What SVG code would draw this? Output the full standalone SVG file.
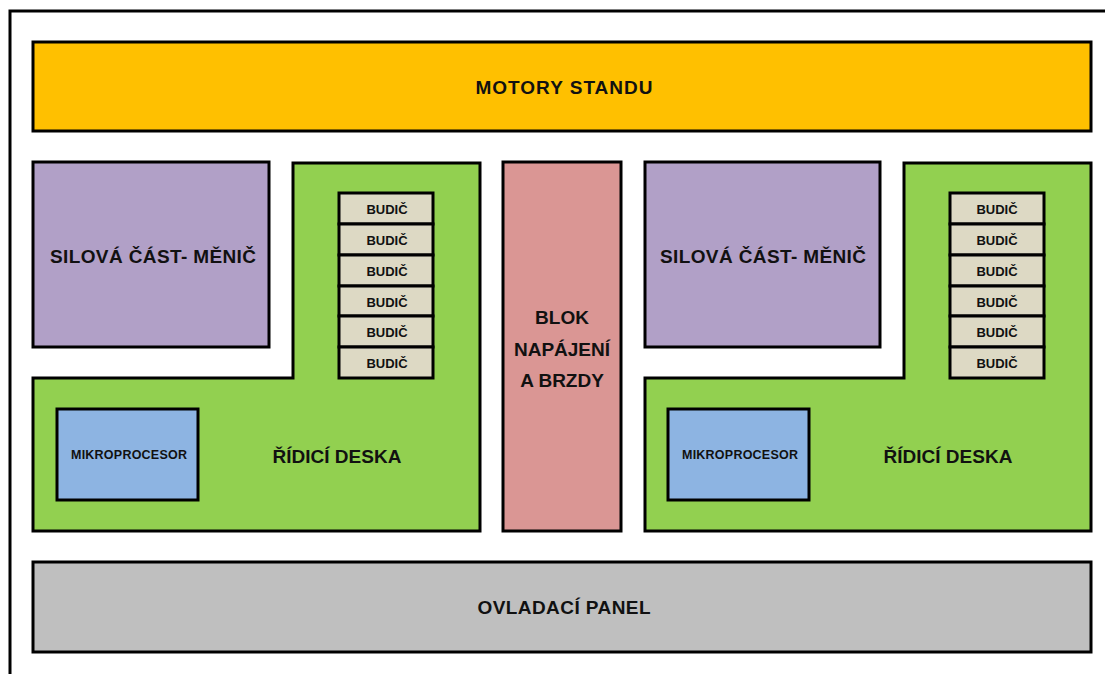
<svg xmlns="http://www.w3.org/2000/svg" width="1105" height="674" viewBox="0 0 1105 674">
<style>
.b{stroke:#000;stroke-width:3}
.t{font-family:"Liberation Sans",Arial,sans-serif;font-weight:bold;fill:#111;text-anchor:middle;dominant-baseline:central}
.big{font-size:19px}
.sm{font-size:13px}
.mp{font-size:12.5px}
</style>
<rect x="0" y="0" width="1105" height="674" fill="#fff"/>
<path d="M10,674 V11 H1105" fill="none" stroke="#000" stroke-width="3"/>
<g id="motory"><rect class="b" x="33" y="42" width="1058" height="89" fill="#FFC000"/><text class="t big" x="564" y="87" textLength="177" lengthAdjust="spacing">MOTORY STANDU</text></g>
<g id="silova-l"><rect class="b" x="33" y="162" width="236" height="185" fill="#B1A0C7"/><text class="t big" x="153" y="256" textLength="206" lengthAdjust="spacing">SILOVÁ ČÁST- MĚNIČ</text></g>
<g id="deska-l"><path class="b" d="M293,163 H480 V531 H33 V378 H293 Z" fill="#92D050"/><text class="t big" x="337" y="456">ŘÍDICÍ DESKA</text></g>
<g id="budice-l" fill="#DDD9C4">
<rect class="b" x="339" y="193" width="94" height="31"/><text class="t sm" x="387" y="209">BUDIČ</text>
<rect class="b" x="339" y="224" width="94" height="31"/><text class="t sm" x="387" y="240">BUDIČ</text>
<rect class="b" x="339" y="255" width="94" height="31"/><text class="t sm" x="387" y="271">BUDIČ</text>
<rect class="b" x="339" y="286" width="94" height="30"/><text class="t sm" x="387" y="302">BUDIČ</text>
<rect class="b" x="339" y="316" width="94" height="31"/><text class="t sm" x="387" y="332">BUDIČ</text>
<rect class="b" x="339" y="347" width="94" height="31"/><text class="t sm" x="387" y="363">BUDIČ</text>
</g>
<g id="mikro-l"><rect class="b" x="57" y="409" width="141" height="91" fill="#8DB4E2"/><text class="t mp" x="129" y="455" textLength="116" lengthAdjust="spacing">MIKROPROCESOR</text></g>
<g id="blok"><rect class="b" x="503" y="162" width="118" height="369" fill="#DA9694"/>
<text class="t big" x="562" y="317">BLOK</text><text class="t big" x="562" y="349">NAPÁJENÍ</text><text class="t big" x="562" y="380">A BRZDY</text></g>
<g id="silova-r"><rect class="b" x="645" y="162" width="235" height="185" fill="#B1A0C7"/><text class="t big" x="763" y="256" textLength="206" lengthAdjust="spacing">SILOVÁ ČÁST- MĚNIČ</text></g>
<g id="deska-r"><path class="b" d="M904,163 H1091 V531 H645 V378 H904 Z" fill="#92D050"/><text class="t big" x="948" y="456">ŘÍDICÍ DESKA</text></g>
<g id="budice-r" fill="#DDD9C4">
<rect class="b" x="950" y="193" width="94" height="31"/><text class="t sm" x="997" y="209">BUDIČ</text>
<rect class="b" x="950" y="224" width="94" height="31"/><text class="t sm" x="997" y="240">BUDIČ</text>
<rect class="b" x="950" y="255" width="94" height="31"/><text class="t sm" x="997" y="271">BUDIČ</text>
<rect class="b" x="950" y="286" width="94" height="30"/><text class="t sm" x="997" y="302">BUDIČ</text>
<rect class="b" x="950" y="316" width="94" height="31"/><text class="t sm" x="997" y="332">BUDIČ</text>
<rect class="b" x="950" y="347" width="94" height="31"/><text class="t sm" x="997" y="363">BUDIČ</text>
</g>
<g id="mikro-r"><rect class="b" x="668" y="409" width="141" height="91" fill="#8DB4E2"/><text class="t mp" x="740" y="455" textLength="116" lengthAdjust="spacing">MIKROPROCESOR</text></g>
<g id="panel"><rect class="b" x="33" y="562" width="1058" height="90" fill="#BFBFBF"/><text class="t big" x="564" y="607" textLength="173" lengthAdjust="spacing">OVLADACÍ PANEL</text></g>
<g id="connectors"/>
</svg>
